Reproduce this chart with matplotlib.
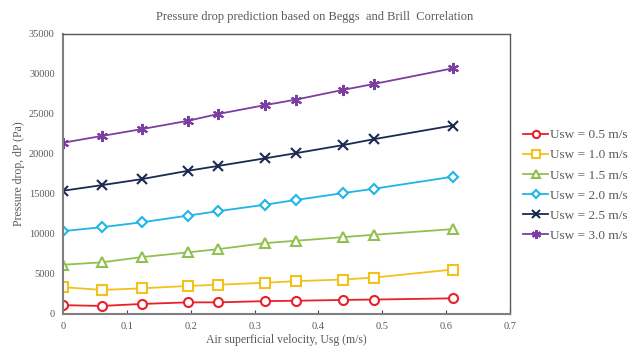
import matplotlib
matplotlib.use('Agg')
import matplotlib.pyplot as plt

# air superficial velocity, Usg (m/s)
usg = [0.0, 0.061, 0.123, 0.196, 0.243, 0.316, 0.365, 0.438, 0.487, 0.610]

# pressure drop (Pa) for each water superficial velocity
dp_05 = [1100, 1000, 1250, 1450, 1450, 1600, 1650, 1750, 1800, 1950]
dp_10 = [3350, 3000, 3200, 3500, 3650, 3900, 4100, 4300, 4550, 5550]
dp_15 = [6150, 6450, 7100, 7700, 8100, 8850, 9150, 9600, 9900, 10600]
dp_20 = [10350, 10850, 11450, 12300, 12850, 13650, 14250, 15100, 15650, 17150]
dp_25 = [15400, 16100, 16850, 17900, 18500, 19450, 20100, 21100, 21850, 23550]
dp_30 = [21400, 22250, 23100, 24150, 25000, 26100, 26800, 28000, 28750, 30700]

labels = ['Usw = 0.5 m/s', 'Usw = 1.0 m/s', 'Usw = 1.5 m/s',
          'Usw = 2.0 m/s', 'Usw = 2.5 m/s', 'Usw = 3.0 m/s']

TEXT_COLOR = '#595959'
plt.rcParams['font.family'] = ['Liberation Serif', 'DejaVu Serif']

fig = plt.figure(figsize=(6.35, 3.5), dpi=100)
ax = fig.add_axes([0.0992, 0.103, 0.704, 0.800])

# colour, marker, marker size, open marker or not
styles = [('#E8202A', 'o', 6.5, True),
          ('#F2C21B', 's', 6.5, True),
          ('#92C050', '^', 6.5, True),
          ('#1FB5E8', 'D', 5, True),
          ('#1B2A50', 'x', 7, False),
          ('#7B3FA0', (6, 2, 0), 8, False)]

series = [dp_05, dp_10, dp_15, dp_20, dp_25, dp_30]
for vals, lab, (col, mk, ms, hollow) in zip(series, labels, styles):
    ax.plot(usg, vals, color=col, marker=mk, markersize=ms, lw=1.3,
            markerfacecolor='white' if hollow else col,
            markeredgecolor=col, markeredgewidth=1.5, label=lab)

ax.set_xlim(0, 0.7)
ax.set_ylim(0, 35000)
ax.set_xticks([0, 0.1, 0.2, 0.3, 0.4, 0.5, 0.6, 0.7])
ax.set_xticklabels(['0', '0.1', '0.2', '0.3', '0.4', '0.5', '0.6', '0.7'])
ax.set_yticks(range(0, 35001, 5000))
ax.tick_params(axis='x', direction='in', length=3, color='#404040',
               labelsize=7.5, labelcolor=TEXT_COLOR, pad=6)
ax.tick_params(axis='y', length=0, labelsize=7.5, labelcolor=TEXT_COLOR, pad=6)

for side in ['left', 'bottom']:
    ax.spines[side].set_color('#7f7f7f')
    ax.spines[side].set_linewidth(1.5)
for side in ['top', 'right']:
    ax.spines[side].set_color('#595959')
    ax.spines[side].set_linewidth(1.0)

ax.set_xlabel('Air superficial velocity, Usg (m/s)', fontsize=8.5,
              color=TEXT_COLOR, labelpad=2)
ax.set_ylabel('Pressure drop, dP (Pa)', fontsize=8.5, color=TEXT_COLOR,
              labelpad=3)
fig.text(0.496, 0.951, 'Pressure drop prediction based on Beggs  and Brill  Correlation',
         ha='center', va='center', fontsize=9, color=TEXT_COLOR)

fig.legend(loc='center left', bbox_to_anchor=(0.805, 0.47), frameon=False,
           fontsize=9.5, labelcolor=TEXT_COLOR, handlelength=1.9,
           handletextpad=0.15, labelspacing=0.6, markerscale=0.8)

fig.savefig('out.png', dpi=100)
